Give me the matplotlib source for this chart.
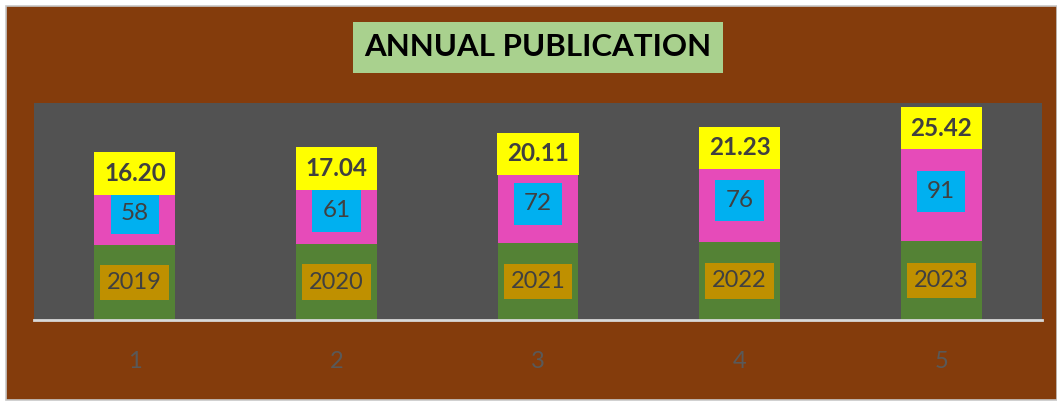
import matplotlib
matplotlib.use("Agg")
import matplotlib.pyplot as plt
from matplotlib.patches import Rectangle

# ---- data ----
categories = ["1", "2", "3", "4", "5"]
years = [2019, 2020, 2021, 2022, 2023]
publications = [58, 61, 72, 76, 91]
impact = [16.20, 17.04, 20.11, 21.23, 25.42]
title = "ANNUAL PUBLICATION"

# ---- style ----
BG = "#843C0C"
PLOT_BG = "#525252"
GREEN = "#548235"
PINK = "#E64BB9"
NAVY = "#2F5597"
TXT = "#404040"
ymin, ymax = 1950, 2150

plt.rcParams["font.family"] = ["Lato", "DejaVu Sans"]

fig = plt.figure(figsize=(10.57, 4.03), dpi=100)
fig.patch.set_facecolor("white")
fig.patches.append(Rectangle((6 / 1057, 3 / 403), 1051 / 1057, 394 / 403,
                             transform=fig.transFigure, facecolor=BG,
                             edgecolor="#C8C8C8", linewidth=1.2, zorder=-10))

ax = fig.add_axes([34 / 1057, (403 - 320) / 403, 1008 / 1057, 217 / 403])
ax.set_zorder(1)
ax.set_facecolor(PLOT_BG)

x = list(range(1, len(categories) + 1))
w = 0.4
b1 = ax.bar(x, years, width=w, color=GREEN, zorder=2)
b2 = ax.bar(x, publications, width=w, bottom=years, color=PINK, zorder=2)
bottom3 = [y + p for y, p in zip(years, publications)]
b3 = ax.bar(x, impact, width=w, bottom=bottom3, color=NAVY, zorder=2)

ax.set_ylim(ymin, ymax)
ax.set_xlim(0.5, len(categories) + 0.5)

for xi, y, p, v in zip(x, years, publications, impact):
    ax.text(xi, (ymin + y) / 2, str(y), ha="center", va="center", fontsize=17,
            color=TXT, zorder=4,
            bbox=dict(boxstyle="square,pad=0.3", fc="#BF9000", ec="none"))
    ax.text(xi, y + p / 2, str(p), ha="center", va="center", fontsize=17.5,
            color=TXT, zorder=4,
            bbox=dict(boxstyle="square,pad=0.42", fc="#00B0F0", ec="none"))
    ax.text(xi, y + p + v / 2, f"{v:.2f}", ha="center", va="center", fontsize=17.5,
            fontweight="bold", color=TXT, zorder=4,
            bbox=dict(boxstyle="square,pad=0.4", fc="#FFFF00", ec="none"))

ax.set_xticks(x)
ax.set_xticklabels(categories, fontsize=17, color="#595959")
ax.tick_params(axis="x", length=0, pad=22)
ax.set_yticks([])
for s in ["top", "right", "left"]:
    ax.spines[s].set_visible(False)
ax.spines["bottom"].set_color("#D9D9D9")
ax.spines["bottom"].set_linewidth(2)
ax.spines["bottom"].set_zorder(5)

fig.text(538 / 1057, 1 - 47.5 / 403, title, ha="center", va="center",
         fontsize=22.5, fontweight="bold", color="black",
         bbox=dict(boxstyle="square,pad=0.38", fc="#A9D18E", ec="none"))

fig.savefig("out.png", dpi=100, facecolor=fig.get_facecolor())
